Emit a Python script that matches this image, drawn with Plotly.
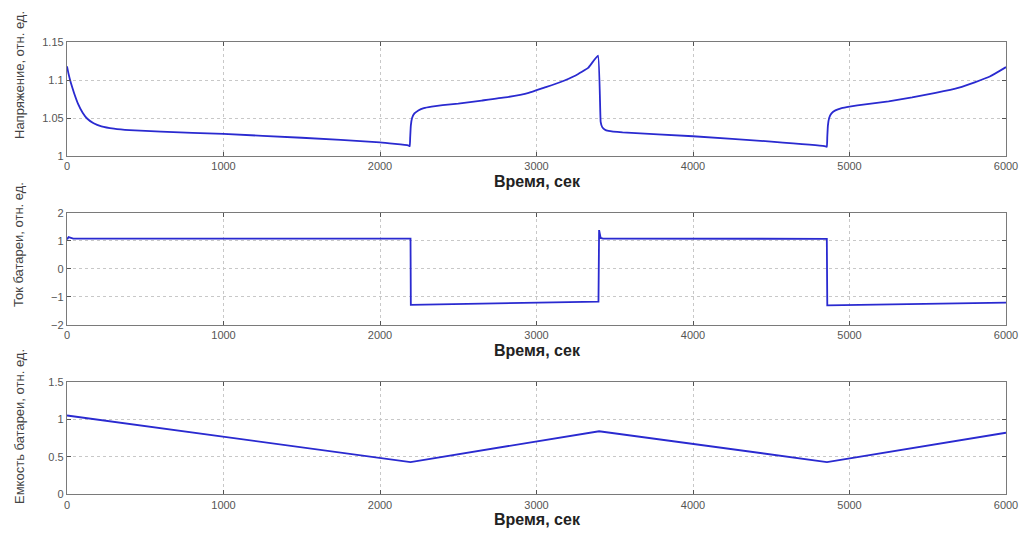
import plotly.graph_objects as go

# ---- data ----
volt_t = [0, 10, 25, 45, 70, 100, 130, 170, 220, 300, 400, 600, 1000, 1500, 2000, 2180, 2190,
          2193, 2197, 2205, 2220, 2245, 2280, 2330, 2400, 2500, 2650, 2800, 2950, 3050,
          3150, 3250, 3330, 3393,
          3410, 3420, 3435, 3460, 3550, 4000, 4500, 4840, 4855,
          4858, 4862, 4870, 4885, 4910, 4950, 5000, 5100, 5250, 5400, 5550, 5700, 5800, 5900, 6000]
volt_v = [1.118, 1.108, 1.096, 1.083, 1.069, 1.057, 1.049, 1.043, 1.039, 1.036, 1.034, 1.032, 1.029, 1.024, 1.018, 1.014, 1.013,
          1.025, 1.040, 1.050, 1.056, 1.060, 1.063, 1.065, 1.067, 1.069, 1.073, 1.077, 1.083, 1.090,
          1.097, 1.106, 1.116, 1.132,
          1.045, 1.038, 1.035, 1.033, 1.031, 1.026, 1.019, 1.013, 1.012,
          1.025, 1.040, 1.050, 1.056, 1.060, 1.063, 1.065, 1.068, 1.072, 1.077, 1.083, 1.090, 1.097, 1.105, 1.117]

curr_t = [0, 10, 40, 2195, 2197, 2300, 3000, 3396, 3400, 3410, 3425, 4855, 4858, 6000]
curr_v = [1.05, 1.13, 1.08, 1.08, -1.28, -1.27, -1.22, -1.17, 1.38, 1.10, 1.08, 1.07, -1.30, -1.20]

cap_t = [0, 2195, 3400, 4856, 6000]
cap_v = [1.05, 0.43, 0.84, 0.43, 0.82]

x_ticks = [0, 1000, 2000, 3000, 4000, 5000, 6000]
x_title = "Время, сек"
y_titles = ["Напряжение, отн. ед.", "Ток батареи, отн. ед.", "Емкость батареи, отн. ед."]

W, H = 1021, 535
def px_x(p): return p / W
def px_y(p): return 1 - p / H

x_dom = [px_x(67), px_x(1006)]
panels = [(42, 156), (212.7, 325), (381.7, 494.3)]

fig = go.Figure()
series = [(volt_t, volt_v), (curr_t, curr_v), (cap_t, cap_v)]
line_color = "#2a2ad0"
for i, (t, v) in enumerate(series):
    fig.add_trace(go.Scatter(x=t, y=v, mode="lines",
                             line=dict(color=line_color, width=1.8, shape="spline", smoothing=0.3) if i == 0
                             else dict(color=line_color, width=1.8),
                             xaxis="x" if i == 0 else f"x{i+1}",
                             yaxis="y" if i == 0 else f"y{i+1}",
                             showlegend=False, hoverinfo="skip"))

yranges = [[1, 1.15], [-2, 2], [0, 1.5]]
ydticks = [0.05, 1, 0.5]
axis_common = dict(showline=True, linecolor="#7a7a7a", linewidth=1.3, mirror="ticks",
                   ticks="inside", ticklen=4, tickcolor="#555",
                   showgrid=True, gridcolor="#c8c8c8", griddash="dot", gridwidth=1,
                   zeroline=False, automargin=False,
                   tickfont=dict(family="Liberation Sans, Arial", size=11, color="#555"))
layout = dict(width=W, height=H, margin=dict(l=0, r=0, t=0, b=0, autoexpand=False),
              plot_bgcolor="white", paper_bgcolor="white")
for i, (top, bot) in enumerate(panels):
    sx = "" if i == 0 else str(i + 1)
    layout[f"xaxis{sx}"] = dict(domain=x_dom, range=[0, 6000], tickvals=x_ticks,
                                anchor=f"y{sx}", **axis_common)
    layout[f"yaxis{sx}"] = dict(domain=[px_y(bot), px_y(top)], range=yranges[i],
                                dtick=ydticks[i], tick0=0, anchor=f"x{sx}", **axis_common)
fig.update_layout(**layout)

ann = []
xtitle_y = [181, 350, 519]
ytitle_y = [75, 245, 427]
for i in range(3):
    ann.append(dict(text=f"<b>{x_title}</b>", x=px_x(537), y=px_y(xtitle_y[i]),
                    xref="paper", yref="paper", showarrow=False,
                    xanchor="center", yanchor="middle",
                    font=dict(family="Liberation Sans, Arial", size=16, color="#222")))
    ann.append(dict(text=y_titles[i], x=px_x(19), y=px_y(ytitle_y[i]),
                    xref="paper", yref="paper", showarrow=False, textangle=-90,
                    xanchor="center", yanchor="middle",
                    font=dict(family="Liberation Sans, Arial", size=13, color="#444")))
fig.update_layout(annotations=ann)

fig.write_html("out.html", config={"displayModeBar": False},
               post_script="document.body.style.margin='0';document.body.style.overflow='hidden';")
